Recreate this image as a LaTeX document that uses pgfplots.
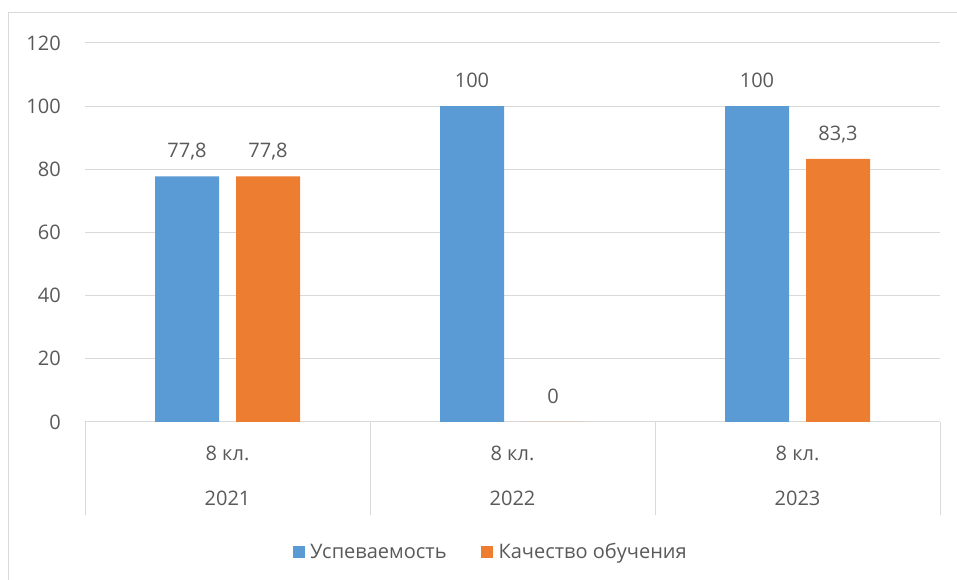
\documentclass[border=0pt]{standalone}
\usepackage{pgfplots}
\pgfplotsset{compat=1.18}
\usepackage{fontspec}
\setmainfont{Open Sans}
\definecolor{barblue}{HTML}{5B9BD5}
\definecolor{barorange}{HTML}{ED7D31}
\definecolor{txt}{HTML}{595959}
\definecolor{gridc}{HTML}{D9D9D9}
\newcommand\lbl{\fontsize{15}{18}\selectfont}
\begin{document}
\begin{tikzpicture}
\useasboundingbox (0,0) rectangle (717.75pt,435pt);
\draw[gridc,line width=0.75pt] (6pt,0) -- (6pt,425.25pt) -- (717.75pt,425.25pt);
\begin{axis}[at={(63.75pt,118.5pt)},anchor=south west,
 scale only axis,width=641.25pt,height=284.25pt,clip=false,
 ybar=12.75pt,bar width=48pt,
 xmin=-0.5,xmax=2.5,ymin=0,ymax=120,
 ytick={0,20,...,120},xtick={0,1,2},
 xticklabels={8 кл.,8 кл.,8 кл.},
 axis line style={draw=none},
 ymajorgrids,grid style={gridc,line width=0.75pt},
 major tick length=0pt,xtick pos=bottom,ytick pos=left,
 tick style={draw=gridc,line width=0.75pt},
 extra x ticks={-0.5,0.5,1.5,2.5},extra x tick labels={},
 extra x tick style={major tick length=70pt,tick align=outside},
 /pgf/number format/assume math mode=true,
 /pgf/number format/use comma,
 tick label style={font=\lbl,text=txt},
 yticklabel style={anchor=east,inner sep=0pt,xshift=-18pt},
 xticklabel style={anchor=center,yshift=-23.25pt},
 nodes near coords,
 nodes near coords style={font=\lbl,text=txt,anchor=base,yshift=14pt},
 legend style={at={(0.4766,-0.343)},anchor=center,draw=none,fill=none,
  font=\lbl,text=txt,legend columns=2,nodes={inner xsep=4pt},
  /tikz/every even column/.append style={column sep=22pt}},
 legend image code/.code={\fill[#1] (0pt,-4.5pt) rectangle (9pt,4.5pt);},
]
\addplot[fill=barblue,draw=none]
 coordinates {(0,77.8) (1,100) (2,100)};
\addlegendentry{Успеваемость}
\addplot[fill=barorange,draw=none]
 coordinates {(0,77.8) (1,0) (2,83.3)};
\addlegendentry{Качество обучения}
\node[font=\lbl,text=txt,yshift=-57pt] at (axis cs:0,0) {2021};
\node[font=\lbl,text=txt,yshift=-57pt] at (axis cs:1,0) {2022};
\node[font=\lbl,text=txt,yshift=-57pt] at (axis cs:2,0) {2023};
\end{axis}
\end{tikzpicture}
\end{document}
